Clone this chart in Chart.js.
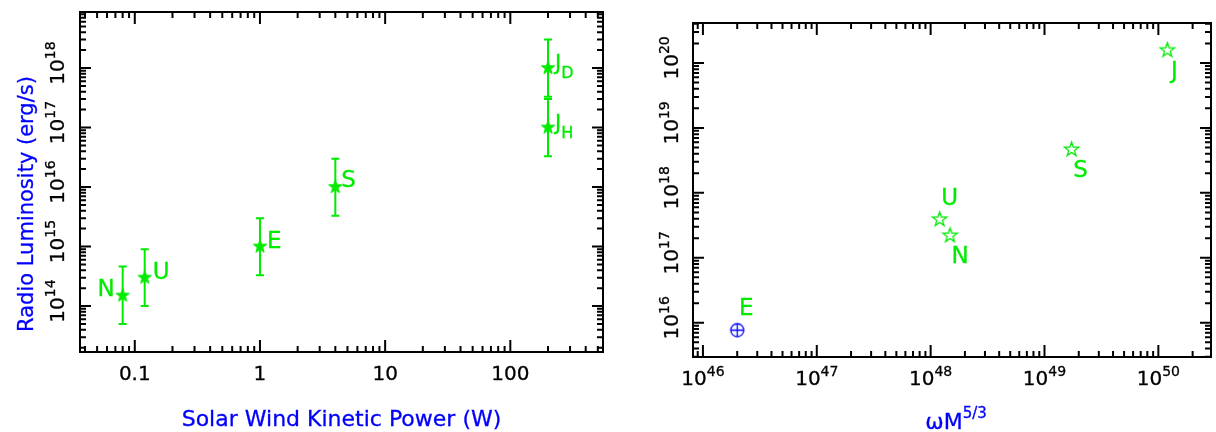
<!DOCTYPE html>
<html>
<head>
<meta charset="utf-8">
<script src="https://cdn.jsdelivr.net/npm/chart.js@4.4.1/dist/chart.umd.min.js"></script>
<style>
  html, body { margin: 0; padding: 0; background: #fff; }
  #left  { position: absolute; left: 0;     top: 0; width: 608px; height: 432px; }
  #right { position: absolute; left: 608px; top: 0; width: 608px; height: 432px; }
</style>
</head>
<body>
<div id="left"><canvas id="lum"></canvas></div>
<div id="right"><canvas id="mom"></canvas></div>
<script>
// left panel: radio luminosity vs solar wind kinetic power
const planets = [['N'], ['U'], ['E'], ['S'], ['J', 'D'], ['J', 'H']];
const windPower = [0.08, 0.12, 1, 4, 200, 200];
const radioLum = [1.5e14, 3e14, 1e15, 1e16, 1e18, 1e17];
const radioLumLow = [5e13, 1e14, 3.3e14, 3.3e15, 3.3e17, 3.3e16];
const radioLumHigh = [4.6e14, 9e14, 3e15, 3e16, 3e18, 3e17];

// right panel: magnetic moment vs omega M^(5/3)
const bodies = ['E', 'U', 'N', 'S', 'J'];
const omegaM53 = [2e46, 1.2e48, 1.48e48, 1.73e49, 1.2e50];
const magMoment = [7.7e15, 3.9e17, 2.2e17, 4.65e18, 1.57e20];

// tick labels
const lumXTicks = [0.1, 1, 10, 100];
const lumXTickLabels = ['0.1', '1', '10', '100'];
const lumYExps = [14, 15, 16, 17, 18];
const momXExps = [46, 47, 48, 49, 50];
const momYExps = [16, 17, 18, 19, 20];

const FONT = 'DejaVu Sans';
const GREEN = 'rgb(0,235,0)';
const BLUE = '#0000ff';

function setFont(ctx, p) {
  ctx.font = (p.italic ? 'italic ' : '') + p.size + 'px "' + FONT + '"';
}

// draws a run of text pieces (for super/subscripts); a thin stroke thickens glyphs a bit
function drawRich(ctx, parts, x, y, align) {
  let w = 0;
  parts.forEach(p => { setFont(ctx, p); p.w = ctx.measureText(p.t).width; w += p.w; });
  let cx = align === 'center' ? x - w / 2 : align === 'right' ? x - w : x;
  ctx.textAlign = 'left';
  ctx.textBaseline = 'alphabetic';
  ctx.strokeStyle = ctx.fillStyle;
  ctx.lineWidth = 0.3;
  parts.forEach(p => {
    setFont(ctx, p);
    ctx.fillText(p.t, cx, y + (p.dy || 0));
    ctx.strokeText(p.t, cx, y + (p.dy || 0));
    cx += p.w;
  });
}

function powParts(e) {
  return [{ t: '10', size: 20 }, { t: String(e), size: 14, dy: -9 }];
}

function logTicks(min, max) {
  const out = [];
  for (let n = Math.floor(Math.log10(min)); n <= Math.ceil(Math.log10(max)); n++) {
    for (let k = 1; k <= 9; k++) {
      const v = k * Math.pow(10, n);
      if (v >= min && v <= max) out.push({ v, major: k === 1 });
    }
  }
  return out;
}

function starImage(r, filled, color) {
  const c = document.createElement('canvas');
  const s = Math.ceil(2 * r + 4);
  c.width = s; c.height = s;
  const g = c.getContext('2d');
  g.beginPath();
  for (let k = 0; k < 10; k++) {
    const a = -Math.PI / 2 + k * Math.PI / 5;
    const rr = k % 2 === 0 ? r : r * 0.4;
    const px = s / 2 + rr * Math.cos(a), py = s / 2 + rr * Math.sin(a);
    k === 0 ? g.moveTo(px, py) : g.lineTo(px, py);
  }
  g.closePath();
  g.strokeStyle = color;
  if (filled) { g.fillStyle = color; g.fill(); g.lineWidth = 1; g.stroke(); }
  else { g.lineWidth = 1.3; g.stroke(); }
  return c;
}

function earthImage(r, color) {
  const c = document.createElement('canvas');
  const s = Math.ceil(2 * r + 4);
  c.width = s; c.height = s;
  const g = c.getContext('2d');
  g.strokeStyle = color; g.lineWidth = 1.3;
  g.beginPath(); g.arc(s / 2, s / 2, r, 0, 2 * Math.PI); g.stroke();
  g.beginPath();
  g.moveTo(s / 2 - r, s / 2); g.lineTo(s / 2 + r, s / 2);
  g.moveTo(s / 2, s / 2 - r); g.lineTo(s / 2, s / 2 + r);
  g.stroke();
  return c;
}

// box, inward ticks on all sides, tick labels and axis titles
function framePlugin(cfg) {
  return {
    id: 'frame',
    afterDraw(chart) {
      const ctx = chart.ctx;
      const a = chart.chartArea;
      const xs = chart.scales.x, ys = chart.scales.y;
      ctx.save();
      ctx.strokeStyle = '#000';
      ctx.lineWidth = 2;
      ctx.beginPath();
      logTicks(xs.min, xs.max).forEach(t => {
        const px = xs.getPixelForValue(t.v), len = t.major ? 12 : 6;
        ctx.moveTo(px, a.bottom); ctx.lineTo(px, a.bottom - len);
        ctx.moveTo(px, a.top); ctx.lineTo(px, a.top + len);
      });
      logTicks(ys.min, ys.max).forEach(t => {
        const py = ys.getPixelForValue(t.v), len = t.major ? 11 : 6;
        ctx.moveTo(a.left, py); ctx.lineTo(a.left + len, py);
        ctx.moveTo(a.right, py); ctx.lineTo(a.right - len, py);
      });
      ctx.stroke();
      ctx.strokeRect(a.left, a.top, a.right - a.left, a.bottom - a.top);

      ctx.fillStyle = '#000';
      cfg.xTicks.forEach(t => {
        drawRich(ctx, t.parts, xs.getPixelForValue(t.v), a.bottom + 28, 'center');
      });
      cfg.yTicks.forEach(t => {
        ctx.save();
        ctx.translate(a.left - cfg.yTickGap, ys.getPixelForValue(t.v) - 5);
        ctx.rotate(-Math.PI / 2);
        drawRich(ctx, t.parts, 0, 0, 'center');
        ctx.restore();
      });

      ctx.fillStyle = BLUE;
      drawRich(ctx, cfg.xTitle, (a.left + a.right) / 2 + cfg.xTitleDx, cfg.xTitleY, 'center');
      ctx.save();
      ctx.translate(cfg.yTitleX, cfg.yTitleY);
      ctx.rotate(-Math.PI / 2);
      drawRich(ctx, cfg.yTitle, 0, 0, 'center');
      ctx.restore();
      ctx.restore();
    }
  };
}

function errorBarPlugin(xv, lo, hi) {
  return {
    id: 'errbars',
    beforeDatasetsDraw(chart) {
      const ctx = chart.ctx, xs = chart.scales.x, ys = chart.scales.y;
      ctx.save();
      ctx.strokeStyle = GREEN;
      ctx.lineWidth = 2;
      ctx.beginPath();
      xv.forEach((x, i) => {
        const px = xs.getPixelForValue(x);
        const y1 = ys.getPixelForValue(lo[i]), y2 = ys.getPixelForValue(hi[i]);
        ctx.moveTo(px, y1); ctx.lineTo(px, y2);
        ctx.moveTo(px - 4, y1); ctx.lineTo(px + 4, y1);
        ctx.moveTo(px - 4, y2); ctx.lineTo(px + 4, y2);
      });
      ctx.stroke();
      ctx.restore();
    }
  };
}

function pointLabelPlugin(xv, yv, labels, style, size) {
  return {
    id: 'ptlabels',
    afterDatasetsDraw(chart) {
      const ctx = chart.ctx, xs = chart.scales.x, ys = chart.scales.y;
      ctx.save();
      ctx.fillStyle = GREEN;
      labels.forEach((lab, i) => {
        const st = style[i];
        const parts = lab.length > 1
          ? [{ t: lab[0], size: size - 2 }, { t: lab[1], size: 16, dy: 8 }]
          : [{ t: lab[0], size }];
        drawRich(ctx, parts, xs.getPixelForValue(xv[i]) + st.dx, ys.getPixelForValue(yv[i]) + st.dy, st.align);
      });
      ctx.restore();
    }
  };
}

const lumLabelStyle = [
  { dx: -8, dy: 0, align: 'right' },
  { dx: 8, dy: 1, align: 'left' },
  { dx: 7, dy: 1, align: 'left' },
  { dx: 6, dy: 0, align: 'left' },
  { dx: 7, dy: 2, align: 'left' },
  { dx: 7, dy: 2, align: 'left' }
];
const momLabelStyle = [
  { dx: 9, dy: -15, align: 'center' },
  { dx: 10, dy: -14, align: 'center' },
  { dx: 10, dy: 27, align: 'center' },
  { dx: 9, dy: 28, align: 'center' },
  { dx: 7, dy: 28, align: 'center' }
];

const baseOptions = (pad, xr, yr) => ({
  responsive: true,
  maintainAspectRatio: false,
  animation: false,
  layout: { padding: pad },
  plugins: { legend: { display: false }, tooltip: { enabled: false } },
  scales: {
    x: { type: 'logarithmic', display: false, min: xr[0], max: xr[1] },
    y: { type: 'logarithmic', display: false, min: yr[0], max: yr[1] }
  }
});

new Chart(document.getElementById('lum'), {
  type: 'scatter',
  data: {
    datasets: [{
      data: windPower.map((x, i) => ({ x, y: radioLum[i] })),
      pointStyle: starImage(7, true, GREEN)
    }]
  },
  options: baseOptions({ left: 80, right: 3, top: 12, bottom: 80 }, [0.0365, 550], [1.69e13, 8.73e18]),
  plugins: [
    errorBarPlugin(windPower, radioLumLow, radioLumHigh),
    pointLabelPlugin(windPower, radioLum, planets, lumLabelStyle, 23),
    framePlugin({
      xTicks: lumXTicks.map((v, i) => ({ v, parts: [{ t: lumXTickLabels[i], size: 20 }] })),
      yTicks: lumYExps.map(e => ({ v: Math.pow(10, e), parts: powParts(e) })),
      yTickGap: 16.5,
      xTitle: [{ t: 'Solar Wind Kinetic Power (W)', size: 22 }],
      xTitleDx: 0, xTitleY: 426,
      yTitle: [{ t: 'Radio Luminosity (erg/s)', size: 21 }],
      yTitleX: 33, yTitleY: 204
    })
  ]
});

const earthMark = earthImage(6.5, BLUE);
const openStar = starImage(7.5, false, GREEN);

new Chart(document.getElementById('mom'), {
  type: 'scatter',
  data: {
    datasets: [{
      data: omegaM53.map((x, i) => ({ x, y: magMoment[i] })),
      pointStyle: bodies.map(b => b === 'E' ? earthMark : openStar)
    }]
  },
  options: baseOptions({ left: 85, right: 2, top: 23, bottom: 75 }, [8.18e45, 2.9e50], [2.97e15, 4.12e20]),
  plugins: [
    pointLabelPlugin(omegaM53, magMoment, bodies.map(b => [b]), momLabelStyle, 23),
    framePlugin({
      xTicks: momXExps.map(e => ({ v: Math.pow(10, e), parts: powParts(e) })),
      yTicks: momYExps.map(e => ({ v: Math.pow(10, e), parts: powParts(e) })),
      yTickGap: 15,
      xTitle: [{ t: '\u03c9M', size: 22 }, { t: '5/3', size: 15, dy: -11 }],
      xTitleDx: 4, xTitleY: 429,
      yTitle: [{ t: '\u03bc', size: 23, italic: true }, { t: ' (T m', size: 23 }, { t: '3', size: 16, dy: -10 }, { t: ')', size: 23 }],
      yTitleX: 642, yTitleY: 189
    })
  ]
});
</script>
</body>
</html>
